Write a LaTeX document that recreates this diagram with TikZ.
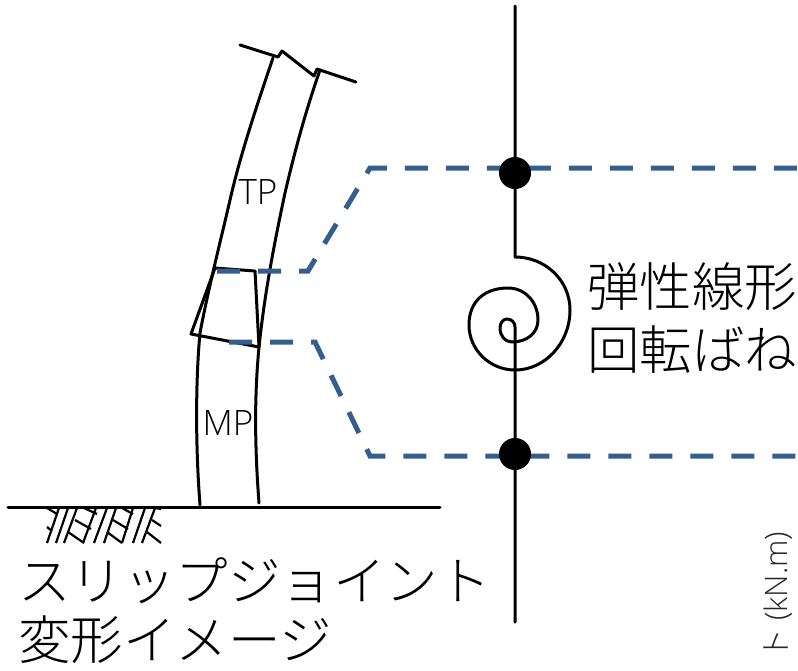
\documentclass[tikz,border=0pt]{standalone}
\usepackage{fontspec}
\newfontfamily\jp{Noto Sans CJK JP Light}
\newfontfamily\lat{Open Sans Light}
\definecolor{dashblue}{HTML}{355E8F}
\tikzset{
  blk/.style={draw=black,line width=3pt,line join=round,line cap=round},
  hatchline/.style={draw=black,line width=2.2pt},
  jump/.style={draw=dashblue,line width=5pt,dash pattern=on 23pt off 18pt},
  jptext/.style={inner sep=0pt,anchor=west,font=\jp\fontsize{52.5}{52.5}\selectfont},
  pile/.style={inner sep=0pt,font=\lat\fontsize{35}{35}\selectfont},
}
\begin{document}
\begin{tikzpicture}[x=1pt,y=-1pt]
\useasboundingbox (0,0) rectangle (798,670);
% named points
\coordinate (groundL) at (8,507);
\coordinate (groundR) at (440,507);
\coordinate (lineTop) at (515,6);
\coordinate (spiralStart) at (515,257);
\coordinate (spiralEnd) at (515,327);
\coordinate (lineBottom) at (515,622);
\coordinate (jTopL) at (217,271);
\coordinate (jTopA) at (308,271);
\coordinate (jTopB) at (370,168);
\coordinate (jTopR) at (798,168);
\coordinate (jBotL) at (229,342);
\coordinate (jBotA) at (315,342);
\coordinate (jBotB) at (370,456);
\coordinate (jBotR) at (798,456);
% ground
\draw[blk] (groundL) -- (groundR);
% hatching
\foreach \a/\b/\c/\d in {47/543/59/508,56/543/68/508,64/543/77/508,83/543/96/508,94/543/107/508,104/543/116/508,122/543/133/508,133/543/145/508,142/543/155/508,
 47/508/57/514,47/527/52/531,84/508/97/514,75/520/91/529,68/532/84/543,122/508/133/514,113/520/128/529,107/532/122/543,152/520/161/526,147/532/161/543,155/508/161/509}
  \draw[hatchline] (\a,\b) -- (\c,\d);
% piles
\draw[blk] (273,58) .. controls (250,125) and (238,165) .. (230,200) .. controls (222,235) and (208,290) .. (200,333) .. controls (196,375) and (195,440) .. (200,505);
\draw[blk] (320,70) .. controls (306,110) and (295,150) .. (285,193) .. controls (275,240) and (265,290) .. (259,347) .. controls (254,400) and (255,450) .. (259,503);
% top cap
\draw[blk] (240,45) -- (278,57) -- (282,51) -- (314,76) -- (317,69) -- (356,82);
% sleeve
\draw[blk] (215,268) -- (255,271) -- (259,347) -- (191,334) -- cycle;
% centre line and spring
\draw[blk] (lineTop) -- (spiralStart)
 .. controls (545,257) and (570,280) .. (570,310)
 .. controls (570,343) and (545,370) .. (515,370)
 .. controls (490,370) and (469,350) .. (469,325)
 .. controls (469,300) and (486,288) .. (508,288)
 .. controls (525,288) and (538,302) .. (538,320)
 .. controls (538,333) and (527,342) .. (512,342)
 .. controls (505,342) and (500,336) .. (500,328)
 .. controls (500,323) and (503,319) .. (507,319)
 .. controls (512,319) and (515,323) .. (spiralEnd) -- (lineBottom);
% dashed links
\draw[jump] (jTopL) -- (jTopA) -- (jTopB) -- (jTopR);
\draw[jump] (jBotL) -- (jBotA) -- (jBotB) -- (jBotR);
% hinges
\node[circle,fill=black,minimum size=32pt,inner sep=0pt] (hingeT) at (515,173) {};
\node[circle,fill=black,minimum size=32pt,inner sep=0pt] (hingeB) at (515,454) {};
% text
\node[pile] (tp) at (258,192) {TP};
\node[pile] (mp) at (228,423) {MP};
\node[jptext] (s1) at (587,287) {弾性線形};
\node[jptext] (s2) at (587,350) {回転ばね};
\node[jptext] (c1) at (18,581) {スリップジョイント};
\node[jptext] (c2) at (18,640) {変形イメージ};
\node[inner sep=0pt,rotate=90,anchor=west,font=\jp\fontsize{31}{31}\selectfont,text=black!85] (unit) at (778,660) {ト\lat\ (kN.m)};
\end{tikzpicture}
\end{document}
